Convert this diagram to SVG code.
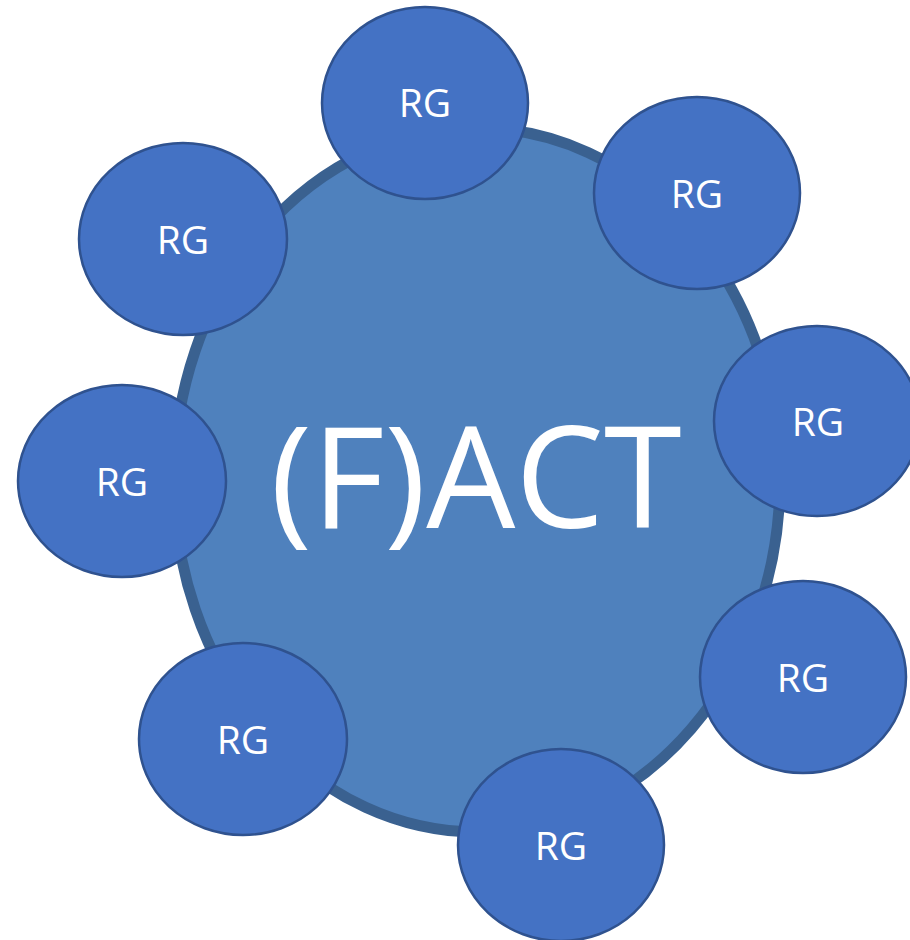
<svg xmlns="http://www.w3.org/2000/svg" width="910" height="940" viewBox="0 0 910 940">
<style>
.rg{fill:#4472C4;stroke:#2F528F;stroke-width:2.5}
.t{fill:#fff;font-family:"Open Sans","Liberation Sans",sans-serif;font-size:39px;text-anchor:middle}
.big{fill:#fff;font-family:"Open Sans","Liberation Sans",sans-serif;font-size:141px;text-anchor:middle}
</style>
<rect width="910" height="940" fill="#fff"/>
<g id="fact">
<ellipse cx="477" cy="480" rx="303" ry="352" fill="#4F81BD" stroke="#3A6190" stroke-width="11"/>
<text class="big" x="476" y="528">(F)ACT</text>
</g>
<g id="rg-top"><ellipse class="rg" cx="425" cy="103" rx="103" ry="96"/><text class="t" x="425" y="117">RG</text></g>
<g id="rg-topright"><ellipse class="rg" cx="697" cy="193" rx="103" ry="96"/><text class="t" x="697" y="208">RG</text></g>
<g id="rg-right"><ellipse class="rg" cx="817" cy="421" rx="103" ry="95"/><text class="t" x="818" y="436">RG</text></g>
<g id="rg-rightlow"><ellipse class="rg" cx="803" cy="677" rx="103" ry="96"/><text class="t" x="803" y="692">RG</text></g>
<g id="rg-bottom"><ellipse class="rg" cx="561" cy="845" rx="103" ry="96"/><text class="t" x="561" y="860">RG</text></g>
<g id="rg-bottomleft"><ellipse class="rg" cx="243" cy="739" rx="104" ry="96"/><text class="t" x="243" y="754">RG</text></g>
<g id="rg-left"><ellipse class="rg" cx="122" cy="481" rx="104" ry="96"/><text class="t" x="122" y="496">RG</text></g>
<g id="rg-topleft"><ellipse class="rg" cx="183" cy="239" rx="104" ry="96"/><text class="t" x="183" y="254">RG</text></g>
<g id="connectors"></g>
</svg>
